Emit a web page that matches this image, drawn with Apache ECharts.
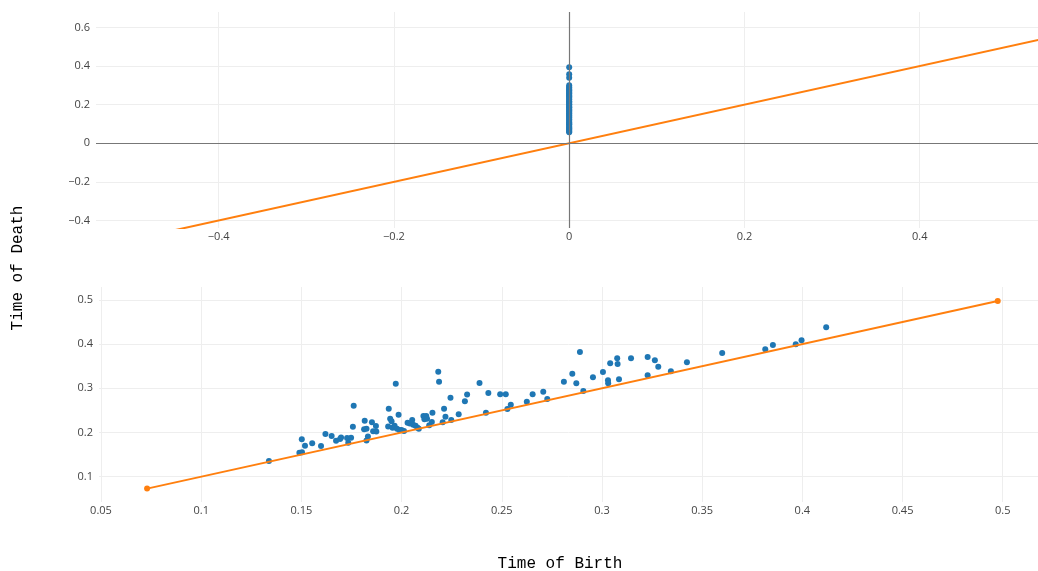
<!DOCTYPE html>
<html>
<head>
<meta charset="utf-8">
<script src="https://cdn.jsdelivr.net/npm/echarts@6/dist/echarts.min.js"></script>
<style>
  html, body { margin: 0; padding: 0; background: #fff; }
  #main { width: 1038px; height: 571px; }
</style>
</head>
<body>
<div id="main"></div>
<script>
// dimension 0 features: all born at 0
var h0Death = [0.394, 0.357, 0.340, 0.300, 0.291, 0.286, 0.279, 0.275, 0.268, 0.262, 0.259, 0.251,
  0.246, 0.242, 0.237, 0.229, 0.226, 0.218, 0.214, 0.209, 0.202, 0.198, 0.191, 0.187, 0.183,
  0.176, 0.171, 0.166, 0.158, 0.155, 0.148, 0.144, 0.137, 0.133, 0.126, 0.122, 0.115, 0.109,
  0.104, 0.098, 0.094, 0.087, 0.081, 0.078, 0.072, 0.066, 0.061, 0.057]

// dimension 1 features
var birth = [0.1338, 0.1502, 0.1518, 0.1490, 0.1503, 0.1554, 0.1598, 0.1620, 0.1651, 0.1673,
  0.1693, 0.1698, 0.1728, 0.1748, 0.1734, 0.1761, 0.1757, 0.1816, 0.1813, 0.1825,
  0.1832, 0.1825, 0.1852, 0.1872, 0.1858, 0.1874, 0.1971, 0.1936, 0.1985, 0.1943,
  0.1950, 0.1933, 0.1955, 0.1965, 0.1977, 0.1989, 0.2000, 0.2012, 0.2030, 0.2041,
  0.2053, 0.2058, 0.2070, 0.2080, 0.2086, 0.2109, 0.2114, 0.2123, 0.2127, 0.2138,
  0.2151, 0.2154, 0.2183, 0.2187, 0.2212, 0.2219, 0.2205, 0.2244, 0.2248, 0.2285,
  0.2316, 0.2327, 0.2389, 0.2421, 0.2433, 0.2492, 0.2520, 0.2545, 0.2528, 0.2625,
  0.2654, 0.2707, 0.2727, 0.2810, 0.2852, 0.2872, 0.2890, 0.2907, 0.2955, 0.3005,
  0.3030, 0.3031, 0.3041, 0.3076, 0.3078, 0.3085, 0.3145, 0.3228, 0.3264, 0.3281,
  0.3228, 0.3344, 0.3424, 0.3600, 0.3815, 0.3853, 0.3967, 0.3996, 0.4119]
var death = [0.1355, 0.1846, 0.1701, 0.1543, 0.1552, 0.1756, 0.1695, 0.1966, 0.1921, 0.1815,
  0.1853, 0.1887, 0.1876, 0.1883, 0.1769, 0.2607, 0.2132, 0.2267, 0.2075, 0.2086,
  0.1910, 0.1819, 0.2231, 0.2147, 0.2030, 0.2023, 0.3105, 0.2539, 0.2403, 0.2310,
  0.2254, 0.2136, 0.2107, 0.2154, 0.2084, 0.2057, 0.2057, 0.2034, 0.2222, 0.2204,
  0.2283, 0.2177, 0.2154, 0.2109, 0.2086, 0.2374, 0.2299, 0.2374, 0.2313, 0.2163,
  0.2238, 0.2448, 0.3377, 0.3150, 0.2539, 0.2358, 0.2231, 0.2788, 0.2283, 0.2412,
  0.2707, 0.2861, 0.3121, 0.2449, 0.2894, 0.2865, 0.2865, 0.2627, 0.2532, 0.2695,
  0.2865, 0.2922, 0.2759, 0.3150, 0.3331, 0.3114, 0.3823, 0.2940, 0.3250, 0.3370,
  0.3182, 0.3114, 0.3567, 0.3680, 0.3551, 0.3205, 0.3680, 0.3710, 0.3635, 0.3490,
  0.3295, 0.3386, 0.3590, 0.3800, 0.3884, 0.3981, 0.3997, 0.4088, 0.4382]

// diagonals
var diagTop = [-0.6, 0.6]
var diagBottom = [0.073, 0.4975]

var blue = '#1f77b4'
var orange = '#ff7f0e'

var fmt = function (v) {
    var r = Math.round(v * 1000) / 1000
    return r < 0 ? '\u2212' + (-r) : String(r)
}

var labelStyle = { color: '#444', fontSize: 11, fontFamily: 'Open Sans', formatter: fmt, showMinLabel: false, showMaxLabel: false }
var gridLine = { show: true, showMinLine: false, showMaxLine: false, lineStyle: { color: '#eee', width: 1 } }

function axis(gridIndex, min, max, split, margin) {
    return {
        type: 'value', gridIndex: gridIndex, min: min, max: max, splitNumber: split,
        axisLine: { show: false }, axisTick: { show: false },
        axisLabel: Object.assign({ margin: margin }, labelStyle),
        splitLine: gridLine
    }
}

var chart = echarts.init(document.getElementById('main'))
var option = {
    animation: false,
    grid: [
        { left: 96, top: 12, right: 0, height: 216 },
        { left: 99, top: 287, right: 0, bottom: 69 }
    ],
    xAxis: [
        axis(0, -0.54, 0.535, 5, 3),
        axis(1, 0.049, 0.5176, 9, 3)
    ],
    yAxis: [
        axis(0, -0.439, 0.68, 5, 6),
        axis(1, 0.0427, 0.5294, 5, 6)
    ],
    graphic: [
        {
            type: 'text', x: 18, y: 268, rotation: Math.PI / 2,
            style: { text: 'Time of Death', font: '16px "Liberation Mono", "Courier New", monospace', fill: '#000', align: 'center', verticalAlign: 'middle' }
        },
        {
            type: 'text', x: 560, y: 564,
            style: { text: 'Time of Birth', font: '16px "Liberation Mono", "Courier New", monospace', fill: '#000', align: 'center', verticalAlign: 'middle' }
        }
    ],
    series: [
        {
            type: 'scatter', xAxisIndex: 0, yAxisIndex: 0,
            data: h0Death.map(function (d) { return [0, d] }),
            symbolSize: 6, itemStyle: { color: blue, opacity: 1 },
            markLine: {
                silent: true, symbol: 'none', label: { show: false },
                lineStyle: { color: '#777', width: 1.2, type: 'solid' },
                data: [{ xAxis: 0 }, { yAxis: 0 }]
            },
            z: 3
        },
        {
            type: 'line', xAxisIndex: 0, yAxisIndex: 0,
            data: diagTop.map(function (d) { return [d, d] }),
            showSymbol: false, lineStyle: { color: orange, width: 2 }, itemStyle: { color: orange },
            clip: true, z: 4
        },
        {
            type: 'scatter', xAxisIndex: 1, yAxisIndex: 1,
            data: birth.map(function (b, i) { return [b, death[i]] }),
            symbolSize: 6, itemStyle: { color: blue, opacity: 1 }
        },
        {
            type: 'line', xAxisIndex: 1, yAxisIndex: 1,
            data: diagBottom.map(function (d) { return [d, d] }),
            symbol: 'circle', symbolSize: 6, showSymbol: true,
            lineStyle: { color: orange, width: 2 }, itemStyle: { color: orange }
        }
    ]
}
chart.setOption(option)
</script>
</body>
</html>
